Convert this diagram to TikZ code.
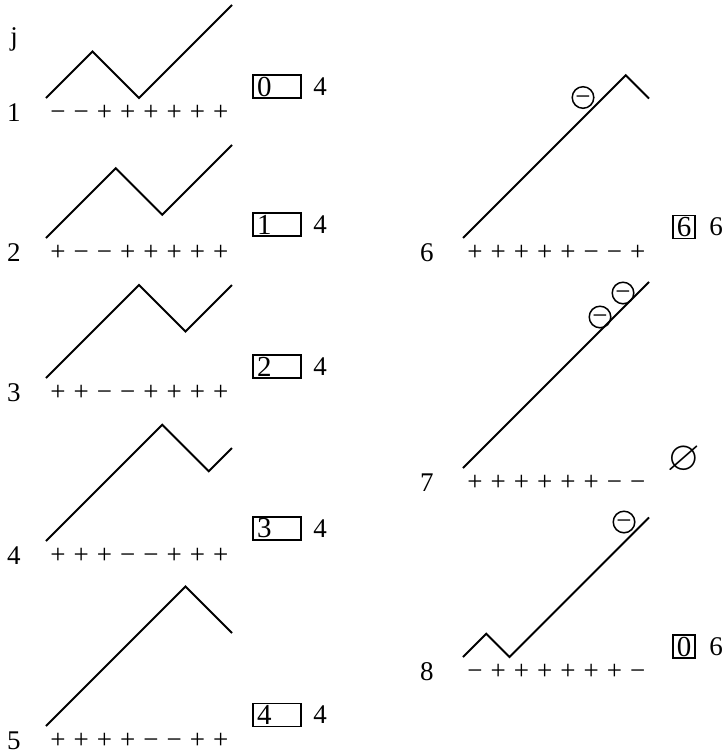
\documentclass[tikz,border=0pt]{standalone}
\usepackage{fontspec}
\setmainfont{Liberation Serif}
\usepackage{amssymb}
\usetikzlibrary{positioning}

\newcommand{\Pl}{\makebox[11.625pt]{+}}
\newcommand{\Mi}{\makebox[11.625pt]{−}}

\begin{document}
\begin{tikzpicture}[
        x=0.5pt, y=-0.5pt,
        font=\fontsize{13.5}{15}\selectfont,
        walk/.style={line width=0.9pt, x=11.625pt, y=11.625pt},
        signs/.style={anchor=west, inner sep=0pt, yshift=-7.5pt},
        lab/.style={inner sep=0pt},
        tag/.style={draw, line width=0.85pt, font=\fontsize{14.5}{15}\selectfont, minimum height=11.5pt, text width=20pt, inner xsep=2pt, inner ysep=0pt, align=left},
        sq/.style={draw, line width=0.85pt, font=\fontsize{14.5}{15}\selectfont, minimum width=11pt, minimum height=11.5pt, inner sep=0.5pt},
        neg/.style={circle, draw, line width=0.75pt, minimum size=10.5pt, inner sep=0pt}
    ]
    \useasboundingbox (0,0) rectangle (723,755);

    % start points of the walks
    \coordinate (w1) at (46,98);
    \coordinate (w2) at (46,238);
    \coordinate (w3) at (46,378);
    \coordinate (w4) at (46,541);
    \coordinate (w5) at (46,726);
    \coordinate (w6) at (463,238);
    \coordinate (w7) at (463,468);
    \coordinate (w8) at (463,657);

    \draw[walk] (w1) -- ++(2,2) -- ++(2,-2) -- ++(4,4);
    \draw[walk] (w2) -- ++(3,3) -- ++(2,-2) -- ++(3,3);
    \draw[walk] (w3) -- ++(4,4) -- ++(2,-2) -- ++(2,2);
    \draw[walk] (w4) -- ++(5,5) -- ++(2,-2) -- ++(1,1);
    \draw[walk] (w5) -- ++(6,6) -- ++(2,-2);
    \draw[walk] (w6) -- ++(7,7) -- ++(1,-1);
    \draw[walk] (w7) -- ++(8,8);
    \draw[walk] (w8) -- ++(1,1) -- ++(1,-1) -- ++(6,6);

    % sign rows
    \node[signs] (s1) at (w1) {\Mi\Mi\Pl\Pl\Pl\Pl\Pl\Pl};
    \node[signs] (s2) at (w2) {\Pl\Mi\Mi\Pl\Pl\Pl\Pl\Pl};
    \node[signs] (s3) at (w3) {\Pl\Pl\Mi\Mi\Pl\Pl\Pl\Pl};
    \node[signs] (s4) at (w4) {\Pl\Pl\Pl\Mi\Mi\Pl\Pl\Pl};
    \node[signs] (s5) at (w5) {\Pl\Pl\Pl\Pl\Mi\Mi\Pl\Pl};
    \node[signs] (s6) at (w6) {\Pl\Pl\Pl\Pl\Pl\Mi\Mi\Pl};
    \node[signs] (s7) at (w7) {\Pl\Pl\Pl\Pl\Pl\Pl\Mi\Mi};
    \node[signs] (s8) at (w8) {\Mi\Pl\Pl\Pl\Pl\Pl\Pl\Mi};

    % row numbers
    \node[lab] (j) at (14,39) {j};
    \node[lab, left=12.5pt of s1] (r1) {1};
    \node[lab, left=12.5pt of s2] (r2) {2};
    \node[lab, left=12.5pt of s3] (r3) {3};
    \node[lab, left=12.5pt of s4] (r4) {4};
    \node[lab, left=12.5pt of s5] (r5) {5};
    \node[lab, left=14.5pt of s6] (r6) {6};
    \node[lab, left=14.5pt of s7] (r7) {7};
    \node[lab, left=14.5pt of s8] (r8) {8};

    % boxed values and counts
    \node[tag] (b1) at (277,86.5) {0};
    \node[tag] (b2) at (277,224.5) {1};
    \node[tag] (b3) at (277,366.5) {2};
    \node[tag] (b4) at (277,528.5) {3};
    \node[tag] (b5) at (277,715) {4};
    \node[lab, right=5.5pt of b1] (n1) {4};
    \node[lab, right=5.5pt of b2] (n2) {4};
    \node[lab, right=5.5pt of b3] (n3) {4};
    \node[lab, right=5.5pt of b4] (n4) {4};
    \node[lab, right=5.5pt of b5] (n5) {4};

    \node[sq] (b6) at (684,227) {6};
    \node[lab, right=6.5pt of b6] (n6) {6};
    \node[lab] (e7) at (684,460) {\fontsize{21}{21}\selectfont$\varnothing$};
    \node[sq] (b8) at (684,646.5) {0};
    \node[lab, right=6.5pt of b8] (n8) {6};

    % circled minus marks
    \node[neg] (m6) at (583,97.5) {\vphantom{+}−};
    \node[neg] (m7a) at (600,317) {\vphantom{+}−};
    \node[neg] (m7b) at (623,293) {\vphantom{+}−};
    \node[neg] (m8) at (624,522) {\vphantom{+}−};
\end{tikzpicture}
\end{document}
